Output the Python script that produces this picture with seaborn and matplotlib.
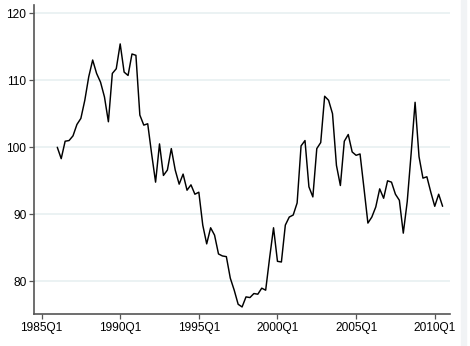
"""
Quarterly index, 1986Q1 - 2010Q3, Stata-like line chart.
"""

import numpy as np
import pandas as pd
import seaborn as sns
import matplotlib
matplotlib.use("Agg")
import matplotlib.pyplot as plt
from matplotlib.patches import Rectangle

## Data
start_year = 1986
values = [
    100.0, 98.3, 100.9, 101.0, 101.7, 103.4, 104.3, 107.0, 110.5, 113.0,
    111.0, 109.7, 107.5, 103.8, 111.0, 111.7, 115.4, 111.2, 110.7, 113.9,
    113.7, 104.8, 103.3, 103.5, 99.0, 94.8, 100.5, 95.8, 96.6, 99.8,
    96.6, 94.5, 96.0, 93.6, 94.4, 93.0, 93.3, 88.4, 85.6, 88.0,
    86.9, 84.1, 83.8, 83.7, 80.5, 78.7, 76.6, 76.2, 77.7, 77.6,
    78.2, 78.1, 79.0, 78.7, 83.5, 88.0, 83.0, 82.9, 88.4, 89.6,
    89.9, 91.7, 100.2, 101.0, 94.1, 92.6, 99.8, 100.7, 107.6, 107.0,
    105.0, 97.3, 94.3, 100.9, 101.9, 99.3, 98.8, 99.0, 93.9, 88.7,
    89.6, 91.1, 93.8, 92.4, 95.0, 94.8, 93.0, 92.1, 87.2, 91.9,
    99.1, 106.7, 98.6, 95.4, 95.6, 93.3, 91.2, 93.0, 91.2,
]
tick_years = [1985, 1990, 1995, 2000, 2005, 2010]
tick_labels = [f"{y}Q1" for y in tick_years]
y_ticks = [80, 90, 100, 110, 120]

# time axis in years, quarter steps
t = start_year + np.arange(len(values)) / 4
df = pd.DataFrame({"t": t, "value": values})

## Plot
sns.set_style("white")
plt.rcParams["font.family"] = ["Liberation Sans", "DejaVu Sans"]

fig = plt.figure(figsize=(4.7, 3.46), dpi=100)
ax = fig.add_axes([34 / 470, 1 - 314 / 346, (450 - 34) / 470, (314 - 5) / 346])

# faint strip on the right edge of the original image
fig.patches.append(Rectangle((461 / 470, 0), 5 / 470, 1, transform=fig.transFigure,
                             color="#f1f3f5", zorder=0))

sns.lineplot(data=df, x="t", y="value", color="black", linewidth=1.05, ax=ax)

ax.set_xlim(1984.52, 2010.97)
ax.set_ylim(75.15, 121.2)
ax.set_xticks(tick_years)
ax.set_xticklabels(tick_labels)
ax.set_yticks(y_ticks)
ax.set_xlabel("")
ax.set_ylabel("")

ax.grid(axis="y", color="#e6eff0", linewidth=1.1)
ax.grid(axis="x", visible=False)
ax.set_axisbelow(True)

for side in ["top", "right"]:
    ax.spines[side].set_visible(False)
for side in ["left", "bottom"]:
    ax.spines[side].set_color("#555555")
    ax.spines[side].set_linewidth(1.2)

ax.tick_params(axis="both", which="major", length=3.5, width=0.9, color="#555555",
               labelsize=8.6, labelcolor="black", pad=2, direction="out",
               bottom=True, left=True)

fig.savefig("out.png", dpi=100)
plt.close(fig)
